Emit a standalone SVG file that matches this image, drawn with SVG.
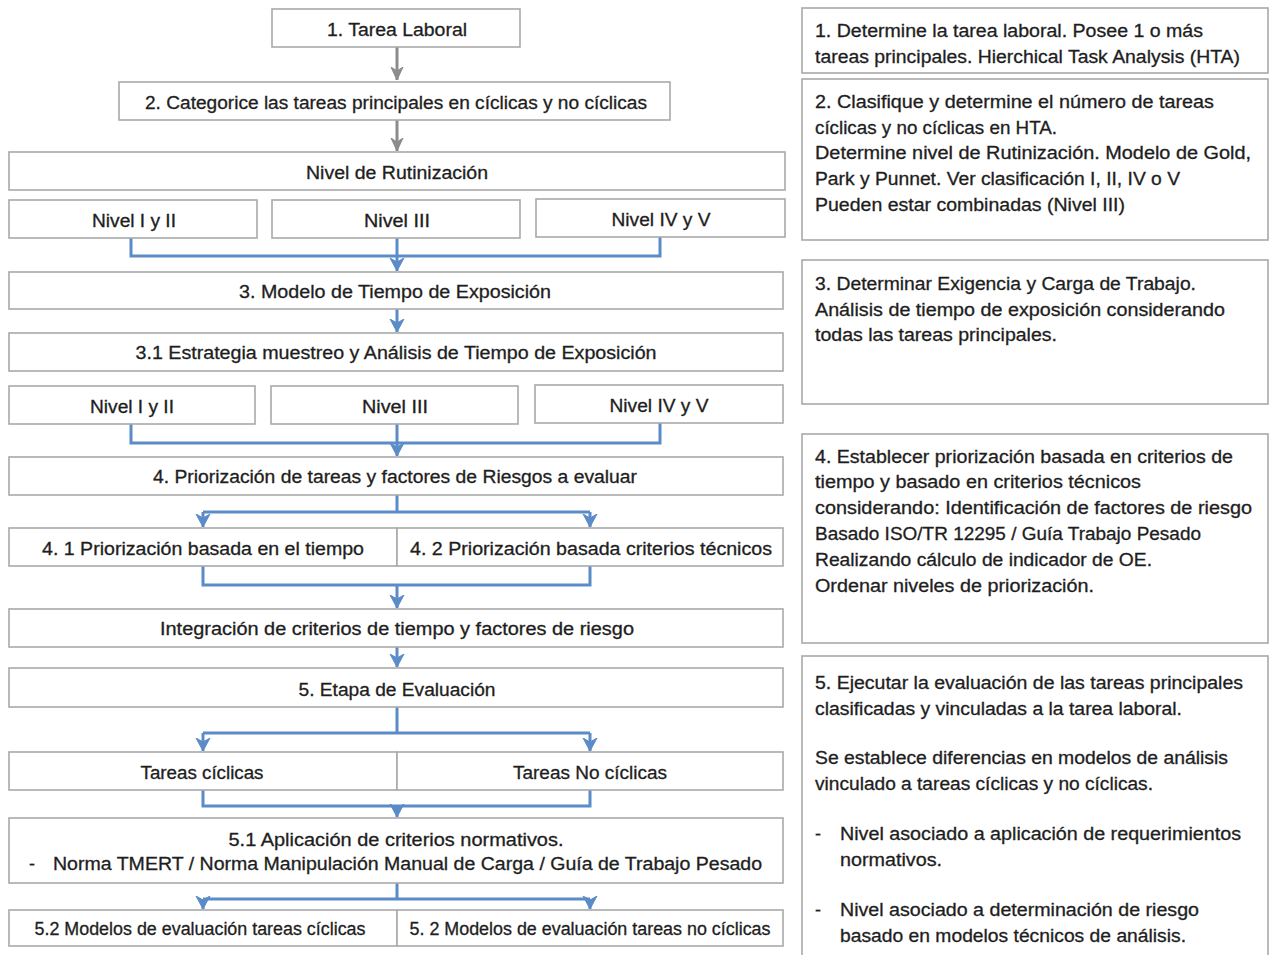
<svg xmlns="http://www.w3.org/2000/svg" width="1273" height="955" viewBox="0 0 1273 955">
<defs>
<style>
.box{fill:#fff;stroke:#a9a9a9;stroke-width:1.6}
.t{font-family:"Liberation Sans",Arial,sans-serif;font-size:18px;fill:#1e1e1e;stroke:#1e1e1e;stroke-width:0.3}
.c{text-anchor:middle}
.r{font-family:"Liberation Sans",Arial,sans-serif;font-size:18px;fill:#1e1e1e;stroke:#1e1e1e;stroke-width:0.3}
.bl{fill:none;stroke:#5b8cc8;stroke-width:3}
.gr{fill:none;stroke:#8c8c8c;stroke-width:3}
</style>
<marker id="ab" markerUnits="userSpaceOnUse" markerWidth="14" markerHeight="16" viewBox="0 0 14 16" refX="13" refY="8" orient="auto">
<path d="M0,1 L13,8 L0,15 L4,8 Z" fill="#5b8cc8" stroke="#5b8cc8" stroke-width="1" stroke-linejoin="round"/>
</marker>
<marker id="ag" markerUnits="userSpaceOnUse" markerWidth="14" markerHeight="16" viewBox="0 0 14 16" refX="13" refY="8" orient="auto">
<path d="M0,2 L13,8 L0,14 L4,8 Z" fill="#8c8c8c" stroke="#8c8c8c" stroke-width="1" stroke-linejoin="round"/>
</marker>
</defs>
<rect width="1273" height="955" fill="#fff"/>

<g id="connectors">
<path class="gr" d="M397,47 V80" marker-end="url(#ag)"/>
<path class="gr" d="M397,120 V151" marker-end="url(#ag)"/>
<path class="bl" d="M131,238 V256 H660 V237"/>
<path class="bl" d="M397,238 V271" marker-end="url(#ab)"/>
<path class="bl" d="M397,309 V332" marker-end="url(#ab)"/>
<path class="bl" d="M131,424 V443 H660 V423"/>
<path class="bl" d="M397,424 V456" marker-end="url(#ab)"/>
<path class="bl" d="M397,495 V512 M203,512 H590"/>
<path class="bl" d="M203,512 V527" marker-end="url(#ab)"/>
<path class="bl" d="M590,512 V527" marker-end="url(#ab)"/>
<path class="bl" d="M203,566 V585 H590 V566"/>
<path class="bl" d="M397,585 V608" marker-end="url(#ab)"/>
<path class="bl" d="M397,647 V667" marker-end="url(#ab)"/>
<path class="bl" d="M397,707 V733 M203,733 H590"/>
<path class="bl" d="M203,733 V751" marker-end="url(#ab)"/>
<path class="bl" d="M590,733 V751" marker-end="url(#ab)"/>
<path class="bl" d="M203,790 V806 H590 V790"/>
<path class="bl" d="M397,806 V817" marker-end="url(#ab)"/>
<path class="bl" d="M397,883 V899 M203,899 H590"/>
<path class="bl" d="M203,899 V909" marker-end="url(#ab)"/>
<path class="bl" d="M590,899 V909" marker-end="url(#ab)"/>
</g>

<g id="n1"><rect class="box" x="272" y="9" width="248" height="38"/>
<text class="t c" x="397" y="36" textLength="140" lengthAdjust="spacingAndGlyphs">1. Tarea Laboral</text></g>
<g id="n2"><rect class="box" x="119" y="82" width="551" height="38"/>
<text class="t c" x="396" y="109" textLength="502" lengthAdjust="spacingAndGlyphs">2. Categorice las tareas principales en cíclicas y no cíclicas</text></g>
<g id="n_rut"><rect class="box" x="9" y="152" width="776" height="38"/>
<text class="t c" x="397" y="179" textLength="182" lengthAdjust="spacingAndGlyphs">Nivel de Rutinización</text></g>
<g id="n_r1"><rect class="box" x="9" y="200" width="248" height="38"/>
<text class="t c" x="134" y="227" textLength="84" lengthAdjust="spacingAndGlyphs">Nivel I y II</text></g>
<g id="n_r2"><rect class="box" x="272" y="200" width="248" height="38"/>
<text class="t c" x="397" y="227" textLength="66" lengthAdjust="spacingAndGlyphs">Nivel III</text></g>
<g id="n_r3"><rect class="box" x="536" y="199" width="249" height="38"/>
<text class="t c" x="661" y="226" textLength="99" lengthAdjust="spacingAndGlyphs">Nivel IV y V</text></g>
<g id="n3"><rect class="box" x="9" y="272" width="774" height="37"/>
<text class="t c" x="395" y="298" textLength="312" lengthAdjust="spacingAndGlyphs">3. Modelo de Tiempo de Exposición</text></g>
<g id="n31"><rect class="box" x="9" y="333" width="774" height="38"/>
<text class="t c" x="396" y="359" textLength="521" lengthAdjust="spacingAndGlyphs">3.1 Estrategia muestreo  y Análisis de Tiempo de Exposición</text></g>
<g id="n_e1"><rect class="box" x="9" y="386" width="246" height="38"/>
<text class="t c" x="132" y="413" textLength="84" lengthAdjust="spacingAndGlyphs">Nivel I y II</text></g>
<g id="n_e2"><rect class="box" x="271" y="386" width="247" height="38"/>
<text class="t c" x="395" y="413" textLength="66" lengthAdjust="spacingAndGlyphs">Nivel III</text></g>
<g id="n_e3"><rect class="box" x="535" y="385" width="248" height="38"/>
<text class="t c" x="659" y="412" textLength="99" lengthAdjust="spacingAndGlyphs">Nivel IV y V</text></g>
<g id="n4"><rect class="box" x="9" y="457" width="774" height="38"/>
<text class="t c" x="395" y="483" textLength="484" lengthAdjust="spacingAndGlyphs">4. Priorización de tareas y factores de Riesgos a evaluar</text></g>
<g id="n41"><rect class="box" x="9" y="528" width="388" height="38"/>
<text class="t c" x="203" y="555" textLength="322" lengthAdjust="spacingAndGlyphs">4. 1 Priorización basada en el tiempo</text></g>
<g id="n42"><rect class="box" x="397" y="528" width="386" height="38"/>
<text class="t c" x="591" y="555" textLength="362" lengthAdjust="spacingAndGlyphs">4. 2 Priorización basada criterios técnicos</text></g>
<g id="n_int"><rect class="box" x="9" y="609" width="774" height="38"/>
<text class="t c" x="397" y="635" textLength="474" lengthAdjust="spacingAndGlyphs">Integración de criterios de tiempo y factores de riesgo</text></g>
<g id="n5"><rect class="box" x="9" y="668" width="774" height="39"/>
<text class="t c" x="397" y="696" textLength="197" lengthAdjust="spacingAndGlyphs">5. Etapa de Evaluación</text></g>
<g id="n_tc"><rect class="box" x="9" y="752" width="388" height="38"/>
<text class="t c" x="202" y="779" textLength="123" lengthAdjust="spacingAndGlyphs">Tareas cíclicas</text></g>
<g id="n_tnc"><rect class="box" x="397" y="752" width="386" height="38"/>
<text class="t c" x="590" y="779" textLength="154" lengthAdjust="spacingAndGlyphs">Tareas No cíclicas</text></g>
<g id="n51"><rect class="box" x="9" y="818" width="774" height="65"/>
<text class="t c" x="396" y="846" textLength="335" lengthAdjust="spacingAndGlyphs">5.1 Aplicación de criterios normativos.</text>
<text class="t" x="29" y="870">-</text>
<text class="t" x="53" y="870" textLength="709" lengthAdjust="spacingAndGlyphs">Norma TMERT / Norma Manipulación Manual de Carga / Guía de Trabajo Pesado</text></g>
<g id="n52a"><rect class="box" x="9" y="910" width="388" height="36"/>
<text class="t c" x="200" y="935" textLength="331" lengthAdjust="spacingAndGlyphs">5.2 Modelos de evaluación tareas cíclicas</text></g>
<g id="n52b"><rect class="box" x="397" y="910" width="386" height="36"/>
<text class="t c" x="590" y="935" textLength="361" lengthAdjust="spacingAndGlyphs">5. 2 Modelos de evaluación tareas no cíclicas</text></g>

<g id="d1"><rect class="box" x="802" y="8" width="466" height="65"/>
<text class="r" x="815" y="37" textLength="388" lengthAdjust="spacingAndGlyphs">1. Determine la tarea laboral. Posee 1 o más</text>
<text class="r" x="815" y="63" textLength="425" lengthAdjust="spacingAndGlyphs">tareas principales. Hierchical Task Analysis (HTA)</text></g>
<g id="d2"><rect class="box" x="802" y="79" width="466" height="161"/>
<text class="r" x="815" y="108" textLength="399" lengthAdjust="spacingAndGlyphs">2. Clasifique y determine el número de tareas</text>
<text class="r" x="815" y="134" textLength="242" lengthAdjust="spacingAndGlyphs">cíclicas y no cíclicas en HTA.</text>
<text class="r" x="815" y="159" textLength="436" lengthAdjust="spacingAndGlyphs">Determine nivel de Rutinización. Modelo de Gold,</text>
<text class="r" x="815" y="185" textLength="365" lengthAdjust="spacingAndGlyphs">Park y Punnet. Ver clasificación I, II, IV o V</text>
<text class="r" x="815" y="211" textLength="310" lengthAdjust="spacingAndGlyphs">Pueden estar combinadas (Nivel III)</text></g>
<g id="d3"><rect class="box" x="802" y="260" width="466" height="144"/>
<text class="r" x="815" y="290" textLength="381" lengthAdjust="spacingAndGlyphs">3. Determinar Exigencia y Carga de Trabajo.</text>
<text class="r" x="815" y="316" textLength="410" lengthAdjust="spacingAndGlyphs">Análisis de tiempo de exposición considerando</text>
<text class="r" x="815" y="341" textLength="242" lengthAdjust="spacingAndGlyphs">todas las tareas principales.</text></g>
<g id="d4"><rect class="box" x="802" y="434" width="466" height="209"/>
<text class="r" x="815" y="463" textLength="418" lengthAdjust="spacingAndGlyphs">4. Establecer priorización basada en criterios de</text>
<text class="r" x="815" y="488" textLength="326" lengthAdjust="spacingAndGlyphs">tiempo y basado en criterios técnicos</text>
<text class="r" x="815" y="514" textLength="437" lengthAdjust="spacingAndGlyphs">considerando: Identificación de factores de riesgo</text>
<text class="r" x="815" y="540" textLength="386" lengthAdjust="spacingAndGlyphs">Basado ISO/TR 12295 / Guía Trabajo Pesado</text>
<text class="r" x="815" y="566" textLength="337" lengthAdjust="spacingAndGlyphs">Realizando cálculo de indicador de OE.</text>
<text class="r" x="815" y="592" textLength="279" lengthAdjust="spacingAndGlyphs">Ordenar niveles de priorización.</text></g>
<g id="d5"><rect class="box" x="802" y="656" width="466" height="320"/>
<text class="r" x="815" y="689" textLength="428" lengthAdjust="spacingAndGlyphs">5. Ejecutar la evaluación de las tareas principales</text>
<text class="r" x="815" y="715" textLength="367" lengthAdjust="spacingAndGlyphs">clasificadas y vinculadas a la tarea laboral.</text>
<text class="r" x="815" y="764" textLength="413" lengthAdjust="spacingAndGlyphs">Se establece diferencias en modelos de análisis</text>
<text class="r" x="815" y="790" textLength="338" lengthAdjust="spacingAndGlyphs">vinculado a tareas cíclicas y no cíclicas.</text>
<text class="r" x="815" y="840">-</text>
<text class="r" x="840" y="840" textLength="401" lengthAdjust="spacingAndGlyphs">Nivel asociado a aplicación de requerimientos</text>
<text class="r" x="840" y="866" textLength="102" lengthAdjust="spacingAndGlyphs">normativos.</text>
<text class="r" x="815" y="916">-</text>
<text class="r" x="840" y="916" textLength="359" lengthAdjust="spacingAndGlyphs">Nivel asociado a determinación de riesgo</text>
<text class="r" x="840" y="942" textLength="346" lengthAdjust="spacingAndGlyphs">basado en modelos técnicos de análisis.</text></g>
</svg>
